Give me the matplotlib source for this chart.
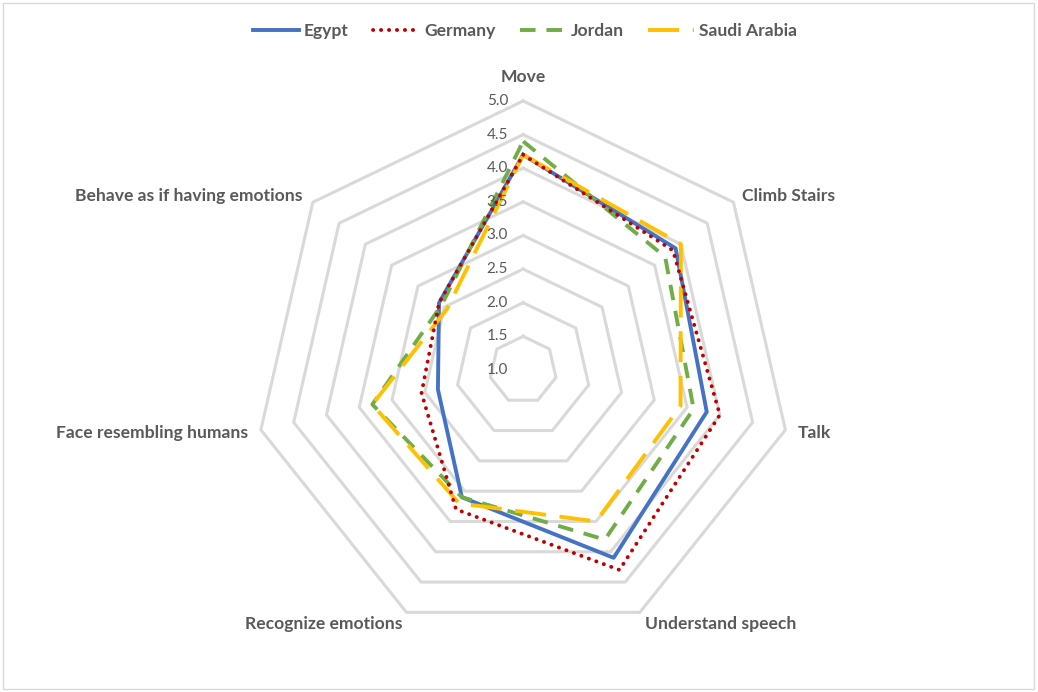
import numpy as np
import matplotlib
matplotlib.use("Agg")
from matplotlib import pyplot as plt
from matplotlib.patches import Rectangle

categories = ["Move", "Climb Stairs", "Talk", "Understand speech",
              "Recognize emotions", "Face resembling humans",
              "Behave as if having emotions"]

egypt = [4.2, 3.9, 3.8, 4.1, 3.1, 2.3, 2.6]
germany = [4.2, 3.85, 4.0, 4.3, 3.3, 2.55, 2.6]
jordan = [4.4, 3.7, 3.6, 3.8, 3.1, 3.3, 2.55]
saudi = [4.2, 4.0, 3.4, 3.5, 3.2, 3.3, 2.45]

ring_values = [1.5, 2.0, 2.5, 3.0, 3.5, 4.0, 4.5, 5.0]
tick_values = [1.0, 1.5, 2.0, 2.5, 3.0, 3.5, 4.0, 4.5, 5.0]

GRID = "#D9D9D9"
TEXT = "#595959"
FONT = "Lato"

plt.rcParams['font.family'] = [FONT, 'DejaVu Sans']

fig = plt.figure(figsize=(10.38, 6.92), dpi=100)
ax = fig.add_axes([0.2448, 0.0766, 0.5184, 0.7775], projection='polar')
ax.set_theta_zero_location('N')
ax.set_theta_direction(-1)
ax.set_ylim(1, 5)
ax.grid(False)
ax.spines['polar'].set_visible(False)
ax.set_xticks([])
ax.set_yticks([])
ax.patch.set_alpha(0)

n = len(categories)
angles = np.linspace(0, 2 * np.pi, n, endpoint=False)
closed = np.append(angles, angles[0])

# polygon grid rings
for v in ring_values:
    ax.plot(closed, [v] * (n + 1), color=GRID, lw=2.2, zorder=1, clip_on=False)

def close(vals):
    return vals + vals[:1]

LW = 2.8
ax.plot(closed, close(egypt), color="#4472C4", lw=LW, label="Egypt",
        zorder=3, clip_on=False)
ax.plot(closed, close(germany), color="#C00000", lw=LW, label="Germany",
        linestyle=(0, (0.05, 2.0)), dash_capstyle='round', zorder=4, clip_on=False)
ax.plot(closed, close(jordan), color="#70AD47", lw=LW, label="Jordan",
        linestyle=(0, (4.0, 2.8)), zorder=3, clip_on=False)
ax.plot(closed, close(saudi), color="#FFC000", lw=LW, label="Saudi Arabia",
        linestyle=(0, (8, 3.5)), zorder=3, clip_on=False)

# radial value labels
for v in tick_values:
    ax.annotate(f"{v:.1f}", xy=(0, v), xytext=(-15, 0), textcoords='offset pixels',
                ha='right', va='center', color=TEXT, fontsize=11, zorder=5)

# category labels
offsets = [(0, 24, 'center'), (9, 6, 'left'), (12, -3, 'left'), (5, -12, 'left'),
           (-4, -12, 'right'), (-13, -3, 'right'), (-10, 6, 'right')]
for ang, lab, (dx, dy, ha) in zip(angles, categories, offsets):
    ax.annotate(lab, xy=(ang, 5), xytext=(dx, dy), textcoords='offset pixels',
                ha=ha, va='center', color=TEXT, fontsize=12.6, fontweight='bold',
                annotation_clip=False)

leg = fig.legend(loc='center', bbox_to_anchor=(0.506, 0.955), ncol=4, frameon=False,
                 handlelength=2.6, handletextpad=0.3, columnspacing=1.4,
                 prop={'family': FONT, 'weight': 'bold', 'size': 12.6})
for t in leg.get_texts():
    t.set_color(TEXT)

fig.patches.append(Rectangle((0.003, 0.004), 0.993, 0.991, transform=fig.transFigure,
                             fill=False, edgecolor=GRID, lw=1))

fig.savefig("out.png", dpi=100)
